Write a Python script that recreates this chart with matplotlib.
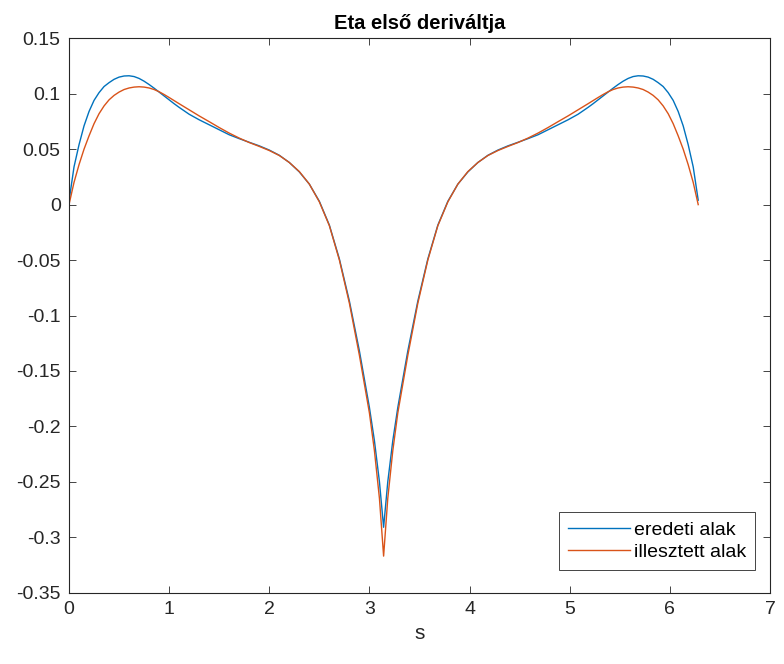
import matplotlib
matplotlib.use("Agg")
import matplotlib.pyplot as plt
from matplotlib.ticker import FuncFormatter

plt.rcParams['font.family'] = ['Liberation Sans', 'DejaVu Sans']
plt.rcParams['axes.unicode_minus'] = False

title = "Eta első deriváltja"
xlabel = "s"
labels = ["eredeti alak", "illesztett alak"]

# left half, cusp, right half
s_left = [0.0, 0.05, 0.1, 0.15, 0.2, 0.25, 0.3, 0.35, 0.4, 0.45, 0.5, 0.55, 0.6, 0.65,
          0.7, 0.75, 0.8, 0.85, 0.9, 0.95, 1.0, 1.05, 1.1, 1.2, 1.3, 1.4, 1.5, 1.6,
          1.7, 1.8, 1.9, 2.0, 2.1, 2.2, 2.3, 2.4, 2.5, 2.6, 2.7, 2.8, 2.9, 3.0, 3.05,
          3.1]
s_cusp = [3.1416]
s_right = [3.1832, 3.2332, 3.2832, 3.3832, 3.4832, 3.5832, 3.6832, 3.7832, 3.8832,
           3.9832, 4.0832, 4.1832, 4.2832, 4.3832, 4.4832, 4.5832, 4.6832, 4.7832,
           4.8832, 4.9832, 5.0832, 5.1832, 5.2332, 5.2832, 5.3332, 5.3832, 5.4332,
           5.4832, 5.5332, 5.5832, 5.6332, 5.6832, 5.7332, 5.7832, 5.8332, 5.8832,
           5.9332, 5.9832, 6.0332, 6.0832, 6.1332, 6.1832, 6.2332, 6.2832]

eredeti_left = [0.003, 0.034, 0.054, 0.071, 0.084, 0.094, 0.101, 0.1065, 0.110, 0.113,
                0.115, 0.116, 0.1162, 0.1155, 0.1138, 0.1113, 0.1083, 0.105, 0.1015,
                0.098, 0.0945, 0.091, 0.0877, 0.0815, 0.0765, 0.072, 0.0675, 0.063,
                0.0595, 0.0562, 0.053, 0.0492, 0.0445, 0.038, 0.0295, 0.0185, 0.003,
                -0.0185, -0.049, -0.087, -0.132, -0.183, -0.213, -0.250]
eredeti_cusp = [-0.291]
eredeti_right = [-0.250, -0.213, -0.183, -0.132, -0.087, -0.049, -0.0185, 0.003, 0.0185,
                 0.0295, 0.038, 0.0445, 0.0492, 0.053, 0.0562, 0.0595, 0.063, 0.0675,
                 0.072, 0.0765, 0.0815, 0.0877, 0.091, 0.0945, 0.098, 0.1015, 0.105,
                 0.1083, 0.1113, 0.1138, 0.1155, 0.1162, 0.116, 0.115, 0.113, 0.110,
                 0.1065, 0.101, 0.094, 0.084, 0.071, 0.054, 0.034, 0.004]

illesztett_left = [0.0, 0.020, 0.036, 0.050, 0.062, 0.073, 0.082, 0.089, 0.0945, 0.0985,
                   0.1015, 0.1038, 0.1052, 0.106, 0.1063, 0.106, 0.1052, 0.1038, 0.1018,
                   0.0993, 0.0966, 0.0938, 0.091, 0.0855, 0.080, 0.0748, 0.0695, 0.0645,
                   0.060, 0.056, 0.0525, 0.0488, 0.0443, 0.038, 0.0298, 0.0185, 0.0025,
                   -0.019, -0.050, -0.089, -0.136, -0.188, -0.222, -0.265]
illesztett_cusp = [-0.317]
illesztett_right = [-0.265, -0.222, -0.188, -0.136, -0.089, -0.050, -0.019, 0.0025,
                    0.0185, 0.0298, 0.038, 0.0443, 0.0488, 0.0525, 0.056, 0.060, 0.0645,
                    0.0695, 0.0748, 0.080, 0.0855, 0.091, 0.0938, 0.0966, 0.0993, 0.1018,
                    0.1038, 0.1052, 0.106, 0.1063, 0.106, 0.1052, 0.1038, 0.1015, 0.0985,
                    0.0945, 0.089, 0.082, 0.073, 0.062, 0.050, 0.036, 0.020, 0.0]

xticks = [0, 1, 2, 3, 4, 5, 6, 7]
yticks = [-0.35, -0.3, -0.25, -0.2, -0.15, -0.1, -0.05, 0, 0.05, 0.1, 0.15]

s_all = s_left + s_cusp + s_right
eredeti = eredeti_left + eredeti_cusp + eredeti_right
illesztett = illesztett_left + illesztett_cusp + illesztett_right

fig = plt.figure(figsize=(7.84, 6.64), dpi=100)
ax = fig.add_axes([69/784, 1 - 592.7/664, 701/784, 554.4/664])

ax.plot(s_all, eredeti, color='#0072BD', lw=1.0, label=labels[0])
ax.plot(s_all, illesztett, color='#D95319', lw=1.0, label=labels[1])

ax.set_xlim(0, 7)
ax.set_ylim(-0.35, 0.15)
ax.set_xticks(xticks)
ax.set_yticks(yticks)
ax.yaxis.set_major_formatter(FuncFormatter(lambda v, p: ('%g' % round(v, 2))))
ax.tick_params(direction='in', length=5, width=0.6, top=True, right=True,
               labelsize=14, colors='#262626', pad=6)
for sp in ax.spines.values():
    sp.set_color('#262626')
    sp.set_linewidth(0.8)

ax.set_title(title, fontsize=14.5, fontweight='bold', pad=7)
ax.set_xlabel(xlabel, fontsize=15, color='#262626', labelpad=4)

leg = ax.legend(loc='lower right', bbox_to_anchor=(0.9786, 0.041), borderaxespad=0,
                fontsize=14, handlelength=3.2, handletextpad=0.2, borderpad=0.45,
                labelspacing=0.25, fancybox=False, framealpha=1, edgecolor='#262626')
leg.get_frame().set_linewidth(0.6)

fig.savefig('out.png', dpi=100)
